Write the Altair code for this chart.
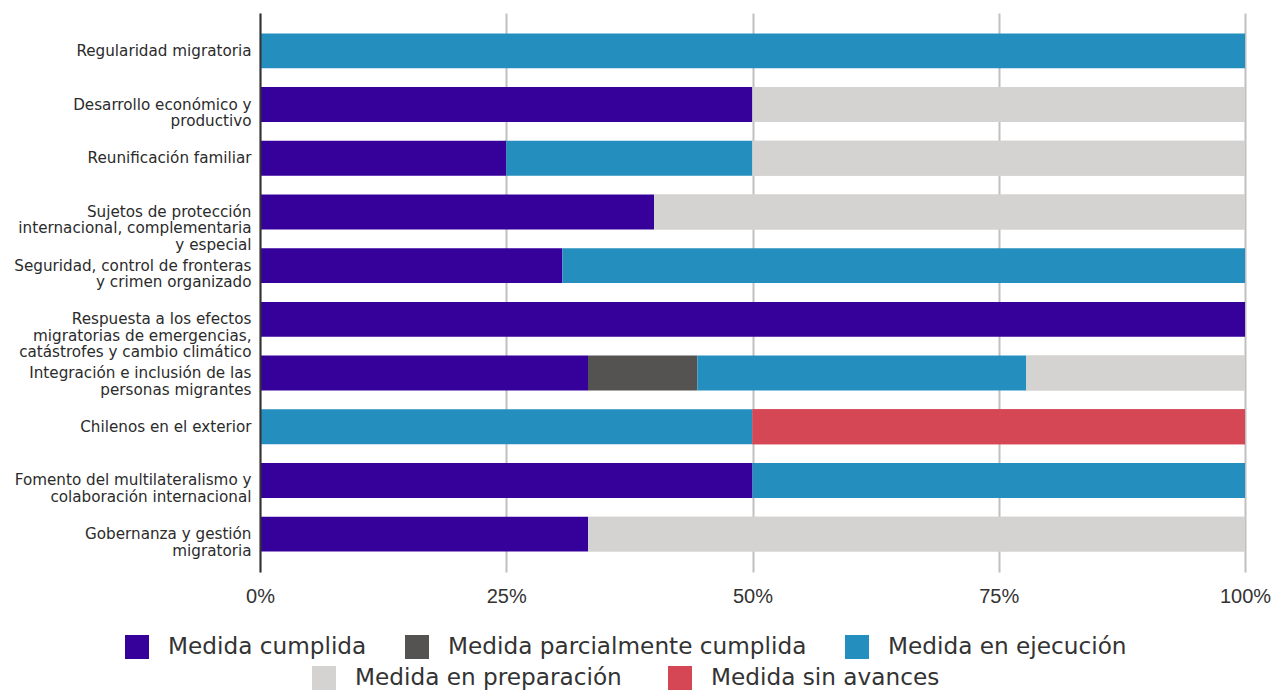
import altair as alt
import pandas as pd

categories = [
    "Regularidad migratoria",
    "Desarrollo económico y\nproductivo",
    "Reunificación familiar",
    "Sujetos de protección\ninternacional, complementaria\ny especial",
    "Seguridad, control de fronteras\ny crimen organizado",
    "Respuesta a los efectos\nmigratorias de emergencias,\ncatástrofes y cambio climático",
    "Integración e inclusión de las\npersonas migrantes",
    "Chilenos en el exterior",
    "Fomento del multilateralismo y\ncolaboración internacional",
    "Gobernanza y gestión\nmigratoria",
]

statuses = [
    "Medida cumplida",
    "Medida parcialmente cumplida",
    "Medida en ejecución",
    "Medida en  preparación",
    "Medida sin avances",
]
colors = ["#36009b", "#545352", "#248fbe", "#d4d3d2", "#d54754"]

cumplida = [0, 50, 25, 40, 30.7, 100, 33.3, 0, 50, 33.3]
parcial = [0, 0, 0, 0, 0, 0, 11.1, 0, 0, 0]
ejecucion = [100, 0, 25, 0, 69.3, 0, 33.4, 50, 50, 0]
preparacion = [0, 50, 50, 60, 0, 0, 22.2, 0, 0, 66.7]
sin_avances = [0, 0, 0, 0, 0, 0, 0, 50, 0, 0]

series = [cumplida, parcial, ejecucion, preparacion, sin_avances]

rows = []
for si, (st, vals) in enumerate(zip(statuses, series)):
    for ci, (cat, v) in enumerate(zip(categories, vals)):
        if v > 0:
            rows.append({"category": cat, "status": st, "value": v, "order": si})
df = pd.DataFrame(rows)

y_enc = alt.Y(
    "category:N",
    sort=categories,
    scale=alt.Scale(paddingInner=0.35, paddingOuter=0.38),
    axis=alt.Axis(
        title=None,
        labelExpr="split(datum.label, '\\n')",
        labelFont="DejaVu Sans",
        labelFontSize=15.2,
        labelLineHeight=16.5,
        labelColor="#2b2b2b",
        labelLimit=400,
        labelPadding=9,
        ticks=False,
        domain=True,
        domainColor="#333333",
        domainWidth=2,
        grid=False,
        zindex=1,
    ),
)

x_enc = alt.X(
    "x0:Q",
    scale=alt.Scale(domain=[0, 100], nice=False),
    axis=alt.Axis(
        title=None,
        values=[0, 25, 50, 75, 100],
        labelExpr="datum.value + '%'",
        labelFont="Liberation Sans",
        labelFontSize=20,
        labelColor="#333333",
        labelPadding=14,
        labelFlush=False,
        labelOverlap=False,
        ticks=False,
        domain=False,
        grid=True,
        gridColor="#c0c0c0",
        gridWidth=2,
    ),
)

legend_common = dict(
    orient="none",
    direction="horizontal",
    title=None,
    symbolType="square",
    symbolSize=576,
    symbolStrokeWidth=0,
    labelFont="DejaVu Sans",
    labelFontSize=23.2,
    labelColor="#333333",
    labelOffset=19,
    columnPadding=38,
    padding=0,
    labelLimit=500,
)

base = alt.Chart(df).transform_stack(
    stack="value",
    groupby=["category"],
    as_=["x0", "x1"],
    sort=[alt.SortField("order", order="ascending")],
)

layer_a = base.mark_bar().encode(
    y=y_enc,
    x=x_enc,
    x2="x1:Q",
    fill=alt.Fill(
        "status:N",
        scale=alt.Scale(domain=statuses, range=colors),
        legend=alt.Legend(values=statuses[:3], legendX=-135, legendY=622, **legend_common),
    ),
)

layer_b = base.transform_filter(
    alt.FieldOneOfPredicate(field="status", oneOf=statuses[3:])
).mark_bar().encode(
    y=y_enc,
    x=x_enc,
    x2="x1:Q",
    color=alt.Color(
        "status:N",
        scale=alt.Scale(domain=statuses[3:], range=colors[3:]),
        legend=alt.Legend(legendX=52, legendY=653, **legend_common),
    ),
)

chart = alt.layer(layer_a, layer_b).properties(
    width=985,
    height=559,
    autosize=alt.AutoSizeParams(type="none"),
    padding={"left": 252, "top": 5, "right": 29, "bottom": 118},
).configure_view(stroke=None)

chart.save("out.html", embed_options={"renderer": "svg", "actions": False})
